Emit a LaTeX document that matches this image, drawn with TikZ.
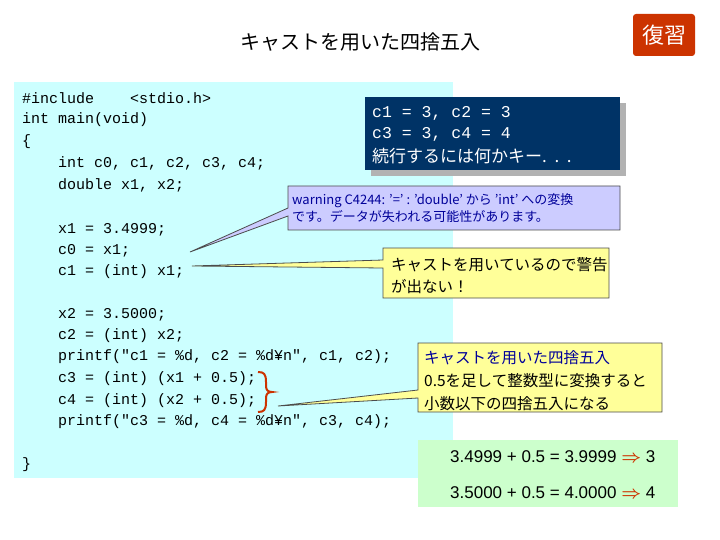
\documentclass[tikz,border=0pt]{standalone}
\usepackage{fontspec}
\setmainfont{Noto Sans CJK JP}
\newfontfamily\codef{Liberation Mono}
\newfontfamily\arialf{Liberation Sans}
\begin{document}
\begin{tikzpicture}[x=1pt,y=-1pt,
  code/.style={anchor=west,inner sep=0,font=\codef\fontsize{15}{15}\selectfont},
  callout/.style={draw=black!70,line width=0.8pt},
  ctext/.style={anchor=west,inner sep=0,align=left}]
\definecolor{cyanbg}{HTML}{CCFFFF}
\definecolor{navy}{HTML}{003366}
\definecolor{lav}{HTML}{CCCCFF}
\definecolor{yel}{HTML}{FFFF99}
\definecolor{grn}{HTML}{CCFFCC}
\definecolor{rd}{HTML}{CC3300}
\definecolor{dblue}{HTML}{000099}
\useasboundingbox (0,0) rectangle (720,540);
\fill[white] (0,0) rectangle (720,540);
\node[font=\fontsize{20}{20}\selectfont] (title) at (360,42) {キャストを用いた四捨五入};
\node[fill=rd,rounded corners=3pt,minimum width=62,minimum height=42,text=white,font=\fontsize{22}{22}\selectfont] (fuku) at (664,35) {復習};
\fill[cyanbg] (14,82) rectangle (453,478);
\node[code] (l1) at (22,98) {\#include\ \ \ \ <stdio.h>};
\node[code] (l2) at (22,120) {int main(void)};
\node[code] (l3) at (22,142) {\{};
\node[code] (l4) at (58,163) {int c0, c1, c2, c3, c4;};
\node[code] (l5) at (58,185) {double x1, x2;};
\node[code] (l6) at (58,230) {x1 = 3.4999;};
\node[code] (l7) at (58,251) {c0 = x1;};
\node[code] (l8) at (58,272) {c1 = (int) x1;};
\node[code] (l9) at (58,315) {x2 = 3.5000;};
\node[code] (l10) at (58,336) {c2 = (int) x2;};
\node[code] (l11) at (58,357) {printf("c1 = \%d, c2 = \%d¥n", c1, c2);};
\node[code] (l12) at (58,379) {c3 = (int) (x1 + 0.5);};
\node[code] (l13) at (58,401) {c4 = (int) (x2 + 0.5);};
\node[code] (l14) at (58,422) {printf("c3 = \%d, c4 = \%d¥n", c3, c4);};
\node[code] (l15) at (22,465) {\}};
% console
\fill[black!30] (371,103) rectangle (626,176);
\fill[navy] (365,97) rectangle (620,170);
\node[ctext,text=white,font=\codef\fontsize{16.5}{21.5}\selectfont] (cons1) at (372,113) {c1 = 3, c2 = 3};
\node[ctext,text=white,font=\codef\fontsize{16.5}{21.5}\selectfont] (cons2) at (372,134) {c3 = 3, c4 = 4};
\node[ctext,text=white,font=\fontsize{17}{21.5}\selectfont] (cons3) at (372,156) {続行するには何かキー.\ \ .\ \ .};
% warning callout
\coordinate (p1) at (190,252);
\filldraw[callout,fill=lav] (288,186) -- (620,186) -- (620,230) -- (288,230) -- (288,216) -- (p1) -- (288,208) -- cycle;
\node[ctext,text=dblue,font=\fontsize{13}{17}\selectfont] (warn) at (292,208) {warning C4244: '=' : 'double' から 'int' への変換\\です。データが失われる可能性があります。};
% yellow callout 1
\coordinate (p2) at (192,266);
\filldraw[callout,fill=yel] (383,248) -- (609,248) -- (609,298) -- (383,298) -- (383,268) -- (p2) -- (383,260) -- cycle;
\node[ctext,font=\fontsize{15.5}{22}\selectfont] (y1) at (391,276) {キャストを用いているので警告\\が出ない！};
% brace
\draw[rd,line width=2pt] (258,372) .. controls (264,372) and (266,374) .. (266,382) -- (266,386) .. controls (266,390) and (268,392) .. (272,392) .. controls (268,392) and (266,394) .. (266,398) -- (266,402) .. controls (266,410) and (264,412) .. (258,412);
% yellow callout 2
\coordinate (p3) at (278,406);
\filldraw[callout,fill=yel] (418,343) -- (662,343) -- (662,412) -- (418,412) -- (418,398) -- (p3) -- (418,390) -- cycle;
\node[ctext,font=\fontsize{15.5}{23}\selectfont] (y2) at (424,381) {\textcolor{dblue}{キャストを用いた四捨五入}\\0.5を足して整数型に変換すると\\小数以下の四捨五入になる};
% green box
\fill[grn] (418,440) rectangle (678,507);
\node[ctext,font=\arialf\fontsize{17}{17}\selectfont] (g1) at (450,457) {3.4999 + 0.5 = 3.9999 \textcolor{rd}{\boldmath$\Rightarrow$} 3};
\node[ctext,font=\arialf\fontsize{17}{17}\selectfont] (g2) at (450,493) {3.5000 + 0.5 = 4.0000 \textcolor{rd}{\boldmath$\Rightarrow$} 4};
\end{tikzpicture}
\end{document}
